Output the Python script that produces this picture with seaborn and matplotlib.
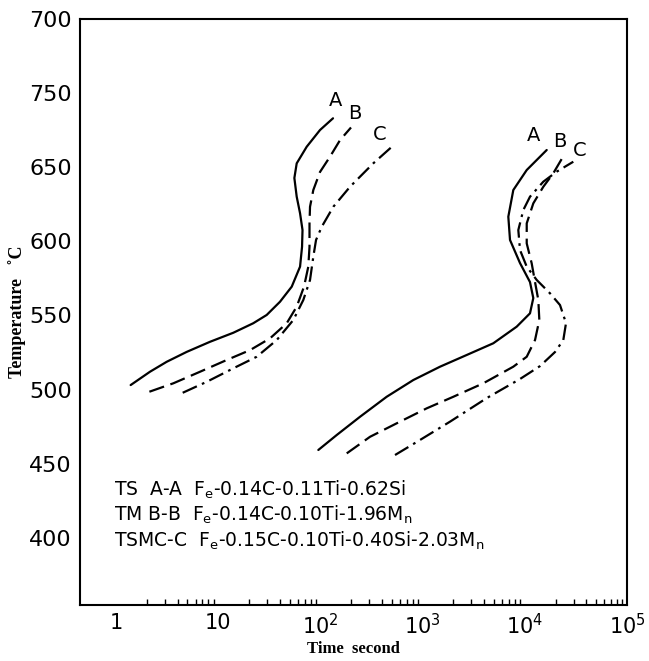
import numpy as np
import pandas as pd
import matplotlib
matplotlib.use("Agg")
import matplotlib.pyplot as plt
import seaborn as sns

# ---- data (time in seconds, temperature in deg C) ----
left_A_t = [1.39, 2.15, 3.13, 4.92, 8.31, 14.05, 22.0, 29.8, 40.2, 52.4, 63.2, 66.1, 66.8, 63.2, 58.6, 55.6, 58.6, 73.4, 99.1, 132.8]
left_A_T = [503.0, 512.0, 518.7, 525.4, 532.2, 538.3, 544.7, 550.3, 559.2, 569.4, 582.9, 596.3, 607.6, 618.9, 630.1, 642.7, 652.6, 663.8, 675.1, 683.0]
left_B_t = [2.12, 3.64, 6.64, 12.1, 20.5, 32.1, 46.8, 58.6, 69.1, 76.1, 78.2, 78.2, 79.1, 85.2, 99.1, 124.1, 155.6, 199.2]
left_B_T = [498.5, 504.2, 512.0, 519.9, 526.6, 534.5, 544.7, 555.9, 569.4, 582.9, 596.3, 612.1, 623.3, 634.6, 646.8, 657.1, 668.3, 676.8]
left_C_t = [4.49, 7.72, 14.05, 23.8, 37.4, 54.3, 68.0, 79.1, 85.2, 90.6, 103.0, 133.7, 194.8, 329.0, 491.0]
left_C_T = [497.8, 505.2, 514.3, 522.1, 533.4, 546.9, 560.4, 573.9, 589.6, 600.9, 609.8, 623.3, 636.8, 652.6, 663.3]

right_A_t = [95.4, 144.4, 244, 445, 811, 1481, 2702, 4918, 8329, 11240, 12110, 11240, 8976, 7165, 6897, 7718, 10440, 16380]
right_A_T = [459.2, 469.3, 481.6, 495.1, 506.4, 515.4, 523.3, 531.2, 542.4, 551.4, 561.7, 572.5, 585.3, 600.9, 616.6, 634.6, 648.1, 661.6]
right_B_t = [180.9, 305.8, 558, 1097, 1997, 3926, 7718, 10440, 12590, 13870, 13560, 12590, 11680, 10440, 10440, 12110, 15170, 19000, 23490]
right_B_T = [456.9, 468.1, 477.2, 487.3, 495.1, 504.2, 515.4, 522.1, 533.4, 546.9, 560.4, 572.5, 585.1, 598.6, 612.1, 625.6, 636.8, 645.9, 656.7]
right_C_t = [537, 876, 1854, 4238, 8976, 14080, 19750, 23810, 25300, 22100, 17640, 13080, 10440, 8976, 8640, 9668, 11240, 15170, 20520, 29830]
right_C_T = [455.8, 464.6, 478.3, 494.2, 507.1, 515.8, 525.3, 533.4, 544.8, 557.0, 564.9, 573.9, 582.9, 594.1, 607.6, 621.1, 630.1, 640.2, 647.0, 653.7]

curve_labels = ["A", "B", "C"]
left_label_t = [139, 218, 383]
left_label_T = [695.3, 686.3, 671.8]
right_label_t = [12160, 21770, 34670]
right_label_T = [671.7, 667.2, 661.6]

y_ticks = [400, 450, 500, 550, 600, 650, 700, 750]
y_ticklabels = ["400", "450", "500", "550", "600", "650", "750", "700"]
x_ticks = [1, 10, 100, 1000, 10000, 100000]
x_ticklabels = ["1", "10", r"$10^2$", r"$10^3$", r"$10^4$", r"$10^5$"]

legend_lines = [
    r"TS  A-A  F$_\mathregular{e}$-0.14C-0.11Ti-0.62Si",
    r"TM B-B  F$_\mathregular{e}$-0.14C-0.10Ti-1.96M$_\mathregular{n}$",
    r"TSMC-C  F$_\mathregular{e}$-0.15C-0.10Ti-0.40Si-2.03M$_\mathregular{n}$",
]

# ---- style ----
sns.set_theme(style="white")
plt.rcParams["font.family"] = ["DejaVu Sans"]
plt.rcParams["mathtext.fontset"] = "custom"
plt.rcParams["mathtext.rm"] = "DejaVu Sans"
plt.rcParams["mathtext.default"] = "regular"
for k in ["text.color", "axes.labelcolor", "xtick.color", "ytick.color", "axes.edgecolor"]:
    plt.rcParams[k] = "black"

fig = plt.figure(figsize=(6.49, 6.61), dpi=100)
ax = fig.add_axes([80 / 649, 1 - 605 / 661, 547 / 649, 586 / 661])

styles = {"A": "-", "B": (0, (7, 3)), "C": (0, (7, 2.5, 1.2, 2.5))}
groups = [
    ("A", left_A_t, left_A_T), ("B", left_B_t, left_B_T), ("C", left_C_t, left_C_T),
    ("A", right_A_t, right_A_T), ("B", right_B_t, right_B_T), ("C", right_C_t, right_C_T),
]
for name, t, T in groups:
    sns.lineplot(x=t, y=T, sort=False, estimator=None, color="black", lw=1.6, ax=ax)
    ax.lines[-1].set_linestyle(styles[name])

for lab, t, T in zip(curve_labels, left_label_t, left_label_T):
    ax.text(t, T, lab, fontsize=14, ha="center", va="center", color="black")
for lab, t, T in zip(curve_labels, right_label_t, right_label_T):
    ax.text(t, T, lab, fontsize=14, ha="center", va="center", color="black")

ax.set_xscale("log")
ax.set_xlim(0.444, 1e5)
ax.set_ylim(354.6, 750)
ax.set_yticks(y_ticks)
ax.set_yticklabels(y_ticklabels, fontsize=16)
ax.set_xticks(x_ticks)
ax.set_xticklabels(x_ticklabels, fontsize=15)
minor = [m * 10 ** k for k in range(0, 5) for m in range(2, 10)]
ax.xaxis.set_minor_locator(matplotlib.ticker.FixedLocator(minor))
ax.xaxis.set_minor_formatter(matplotlib.ticker.NullFormatter())
ax.tick_params(axis="y", direction="out", length=5, width=1.2, pad=1, colors="black")
ax.tick_params(axis="x", which="major", direction="in", length=9, width=1.2, pad=6, colors="black")
ax.tick_params(axis="x", which="minor", direction="in", length=4, width=1.0, bottom=True)
for s in ax.spines.values():
    s.set_visible(True)
    s.set_color("black")
    s.set_linewidth(1.5)

ax.set_xlabel("Time  second", fontsize=12, fontweight="bold",
              family=["Liberation Serif", "DejaVu Serif"], labelpad=2, color="black")
ax.set_ylabel("Temperature   \u02daC", fontsize=13, fontweight="bold",
              family=["Liberation Serif", "DejaVu Serif"], labelpad=2, color="black")

for i, line in enumerate(legend_lines):
    ax.text(0.062, 0.196 - i * 0.043, line, transform=ax.transAxes, fontsize=13.5,
            ha="left", va="center", color="black")

fig.savefig("out.png", dpi=100)
